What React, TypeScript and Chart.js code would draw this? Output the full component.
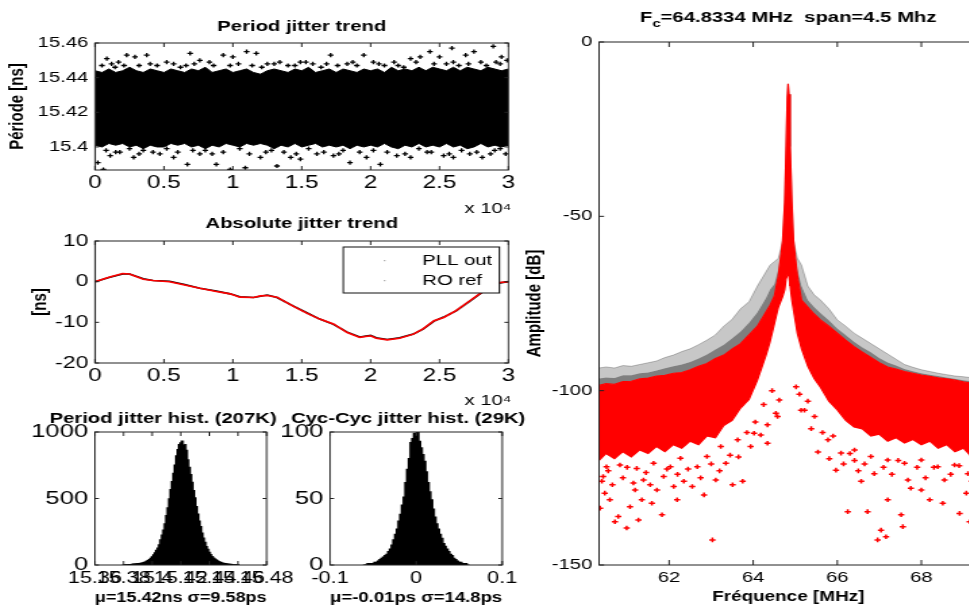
import React, { useEffect, useRef } from 'react';
import { Chart, registerables } from 'chart.js';

Chart.register(...registerables);
Chart.defaults.color = '#000';

const SX = 1.35;
const FONT = "'Liberation Sans', Arial, Helvetica, sans-serif";

// ---------------- Panel 1 : Period jitter trend ----------------
const P1_TITLE = 'Period jitter trend';
const P1_YLABEL = 'Période [ns]';
const P1_XSCALE = 'x 10⁴';
const P1_X_TICKS = [0, 0.5, 1, 1.5, 2, 2.5, 3];
const P1_X_LABELS = ['0', '0.5', '1', '1.5', '2', '2.5', '3'];
const P1_Y_TICKS = [15.4, 15.42, 15.44, 15.46];
const P1_Y_LABELS = ['15.4', '15.42', '15.44', '15.46'];
const P1_BAND_X = [0, 0.05, 0.1, 0.15, 0.2, 0.25, 0.3, 0.35, 0.4, 0.45,
  0.5, 0.55, 0.6, 0.65, 0.7, 0.75, 0.8, 0.85, 0.9, 0.95,
  1.0, 1.05, 1.1, 1.15, 1.2, 1.25, 1.3, 1.35, 1.4, 1.45,
  1.5, 1.55, 1.6, 1.65, 1.7, 1.75, 1.8, 1.85, 1.9, 1.95,
  2.0, 2.05, 2.1, 2.15, 2.2, 2.25, 2.3, 2.35, 2.4, 2.45,
  2.5, 2.55, 2.6, 2.65, 2.7, 2.75, 2.8, 2.85, 2.9, 2.95, 3.0];
const P1_BAND_UPPER = [15.444, 15.443, 15.445, 15.443, 15.444, 15.446, 15.444, 15.443, 15.445, 15.444,
  15.443, 15.445, 15.444, 15.443, 15.445, 15.444, 15.446, 15.443, 15.444, 15.445,
  15.443, 15.444, 15.445, 15.443, 15.442, 15.444, 15.445, 15.444, 15.443, 15.445,
  15.444, 15.446, 15.443, 15.444, 15.445, 15.443, 15.445, 15.444, 15.443, 15.445,
  15.444, 15.445, 15.443, 15.446, 15.444, 15.445, 15.444, 15.446, 15.444, 15.446,
  15.445, 15.444, 15.446, 15.444, 15.446, 15.445, 15.444, 15.446, 15.445, 15.444, 15.445];
const P1_BAND_LOWER = [15.401, 15.4, 15.402, 15.401, 15.402, 15.4, 15.401, 15.399, 15.401, 15.4,
  15.4, 15.402, 15.401, 15.402, 15.4, 15.401, 15.399, 15.401, 15.4, 15.402,
  15.401, 15.4, 15.402, 15.401, 15.402, 15.401, 15.399, 15.401, 15.4, 15.402,
  15.4, 15.401, 15.402, 15.4, 15.401, 15.4, 15.401, 15.399, 15.401, 15.4,
  15.401, 15.4, 15.402, 15.4, 15.399, 15.401, 15.4, 15.402, 15.4, 15.401,
  15.4, 15.402, 15.4, 15.401, 15.399, 15.4, 15.402, 15.4, 15.401, 15.4, 15.401];
const P1_OUT_X = [0.085, 0.145, 0.17, 0.23, 0.29, 0.375, 0.45, 0.57, 0.69, 0.76, 0.86, 0.93, 1.0, 1.1, 1.17, 1.25, 1.34, 1.49, 1.58, 1.71, 1.83, 1.95, 2.02, 2.17, 2.29, 2.36, 2.43, 2.5, 2.59, 2.69, 2.75, 2.89, 2.95, 2.94,
  0.05, 0.32, 0.62, 0.98, 1.21, 1.4, 1.64, 1.9, 2.1, 2.24, 2.55, 2.64, 2.8, 2.99,
  0.12, 0.21, 0.4, 0.52, 0.66, 0.72, 0.83, 1.04, 1.14, 1.3, 1.45, 1.53, 1.68, 1.76, 1.87, 2.06, 2.2, 2.33, 2.46, 2.6, 2.71, 2.84, 2.91,
  0.02, 0.06, 0.11, 0.18, 0.28, 0.35, 0.47, 0.57, 0.67, 0.76, 0.88, 0.98, 1.09, 1.2, 1.32, 1.42, 1.49, 1.61, 1.73, 1.85, 1.97, 2.07, 2.19, 2.29, 2.41, 2.53, 2.6, 2.72, 2.81, 2.87, 2.94,
  0.25, 0.52, 0.8, 1.05, 1.28, 1.55, 1.8, 2.02, 2.35, 2.66,
  0.08, 0.15, 0.32, 0.42, 0.6, 0.71, 0.85, 0.93, 1.12, 1.24, 1.37, 1.46, 1.66, 1.77, 1.92, 2.12, 2.25, 2.44, 2.57, 2.77, 2.9, 2.98];
const P1_OUT_Y = [15.451, 15.446, 15.449, 15.453, 15.452, 15.453, 15.447, 15.448, 15.454, 15.45, 15.447, 15.453, 15.452, 15.455, 15.454, 15.448, 15.449, 15.449, 15.448, 15.453, 15.448, 15.453, 15.449, 15.449, 15.451, 15.452, 15.455, 15.452, 15.457, 15.453, 15.455, 15.458, 15.452, 15.448,
  15.447, 15.447, 15.446, 15.447, 15.446, 15.447, 15.446, 15.447, 15.447, 15.446, 15.448, 15.447, 15.449, 15.45,
  15.448, 15.447, 15.448, 15.449, 15.447, 15.448, 15.449, 15.448, 15.447, 15.448, 15.447, 15.449, 15.448, 15.447, 15.449, 15.448, 15.447, 15.449, 15.448, 15.449, 15.448, 15.447, 15.449,
  15.391, 15.387, 15.395, 15.397, 15.394, 15.398, 15.396, 15.394, 15.39, 15.396, 15.39, 15.387, 15.388, 15.394, 15.389, 15.394, 15.393, 15.396, 15.395, 15.391, 15.394, 15.39, 15.395, 15.394, 15.397, 15.395, 15.394, 15.396, 15.394, 15.396, 15.399,
  15.399, 15.399, 15.398, 15.399, 15.398, 15.399, 15.398, 15.398, 15.399, 15.398,
  15.398, 15.397, 15.396, 15.397, 15.397, 15.398, 15.396, 15.397, 15.396, 15.397, 15.397, 15.396, 15.397, 15.396, 15.397, 15.397, 15.396, 15.397, 15.396, 15.397, 15.398, 15.396];

// ---------------- Panel 2 : Absolute jitter trend ----------------
const P2_TITLE = 'Absolute jitter trend';
const P2_YLABEL = '[ns]';
const P2_XSCALE = 'x 10⁴';
const P2_X_TICKS = [0, 0.5, 1, 1.5, 2, 2.5, 3];
const P2_X_LABELS = ['0', '0.5', '1', '1.5', '2', '2.5', '3'];
const P2_Y_TICKS = [-20, -10, 0, 10];
const P2_Y_LABELS = ['-20', '-10', '0', '10'];
const P2_SERIES = ['PLL out', 'RO ref'];
const P2_X = [0, 0.1, 0.2, 0.25, 0.35, 0.42, 0.54, 0.65, 0.76, 0.88, 0.98, 1.05, 1.15, 1.2, 1.25, 1.32, 1.44, 1.54, 1.63, 1.73, 1.83, 1.92, 2.0, 2.04, 2.12, 2.21, 2.31, 2.38, 2.46, 2.53, 2.62, 2.72, 2.79, 2.87, 2.94, 3.0];
const P2_PLL = [0, 1.0, 1.9, 1.9, 0.7, 0.3, 0.1, -0.7, -1.6, -2.3, -3.0, -3.7, -3.9, -3.6, -3.3, -3.9, -6.0, -7.7, -9.2, -10.5, -12.4, -13.6, -13.2, -13.8, -14.2, -13.8, -12.9, -11.7, -9.7, -8.7, -7.2, -4.8, -3.1, -1.1, -0.3, 0];
const P2_RO = [0, 1.1, 2.0, 1.9, 0.6, 0.3, 0.0, -0.8, -1.6, -2.4, -3.0, -3.8, -3.9, -3.5, -3.4, -3.8, -6.1, -7.8, -9.2, -10.4, -12.5, -13.7, -13.3, -13.9, -14.3, -13.9, -12.9, -11.6, -9.6, -8.8, -7.1, -4.7, -3.0, -1.0, -0.2, 0];

// ---------------- Panel 3 : Period jitter histogram ----------------
const P3_TITLE = 'Period jitter hist. (207K)';
const P3_XLABEL = 'μ=15.42ns σ=9.58ps';
const P3_X_TICKS = [15.36, 15.38, 15.4, 15.42, 15.44, 15.46, 15.48];
const P3_X_LABELS = ['15.36', '15.38', '15.4', '15.42', '15.44', '15.46', '15.48'];
const P3_Y_TICKS = [0, 500, 1000];
const P3_Y_LABELS = ['0', '500', '1000'];
const HIST1_X = [15.38, 15.381, 15.382, 15.383, 15.384, 15.385, 15.386, 15.387, 15.388, 15.389,
  15.39, 15.391, 15.392, 15.393, 15.394, 15.395, 15.396, 15.397, 15.398, 15.399,
  15.4, 15.401, 15.402, 15.403, 15.404, 15.405, 15.406, 15.407, 15.408, 15.409,
  15.41, 15.411, 15.412, 15.413, 15.414, 15.415, 15.416, 15.417, 15.418, 15.419,
  15.42, 15.421, 15.422, 15.423, 15.424, 15.425, 15.426, 15.427, 15.428, 15.429,
  15.43, 15.431, 15.432, 15.433, 15.434, 15.435, 15.436, 15.437, 15.438, 15.439,
  15.44, 15.441, 15.442, 15.443, 15.444, 15.445, 15.446, 15.447, 15.448, 15.449,
  15.45, 15.451, 15.452, 15.453, 15.454, 15.455, 15.456, 15.457, 15.458, 15.459, 15.46];
const HIST1_Y = [0, 1, 1, 2, 3, 3, 5, 6, 7, 9,
  10, 11, 13, 15, 18, 22, 27, 33, 40, 50,
  62, 76, 92, 110, 128, 152, 190, 225, 262, 310,
  372, 430, 498, 566, 628, 690, 752, 820, 868, 905,
  918, 932, 898, 905, 862, 790, 735, 680, 622, 560,
  505, 440, 382, 330, 288, 240, 202, 170, 138, 118,
  96, 78, 63, 52, 45, 36, 30, 24, 19, 15,
  12, 10, 8, 6, 5, 4, 3, 2, 2, 1, 1];

// ---------------- Panel 4 : Cycle-to-cycle jitter histogram ----------------
const P4_TITLE = 'Cyc-Cyc jitter hist. (29K)';
const P4_XLABEL = 'μ=-0.01ps σ=14.8ps';
const P4_X_TICKS = [-0.1, 0, 0.1];
const P4_X_LABELS = ['-0.1', '0', '0.1'];
const P4_Y_TICKS = [0, 50, 100];
const P4_Y_LABELS = ['0', '50', '100'];
const HIST2_X = [-0.06, -0.058, -0.056, -0.054, -0.052, -0.05, -0.048, -0.046, -0.044, -0.042,
  -0.04, -0.038, -0.036, -0.034, -0.032, -0.03, -0.028, -0.026, -0.024, -0.022,
  -0.02, -0.018, -0.016, -0.014, -0.012, -0.01, -0.008, -0.006, -0.004, -0.002,
  0, 0.002, 0.004, 0.006, 0.008, 0.01, 0.012, 0.014, 0.016, 0.018,
  0.02, 0.022, 0.024, 0.026, 0.028, 0.03, 0.032, 0.034, 0.036, 0.038,
  0.04, 0.042, 0.044, 0.046, 0.048, 0.05, 0.052, 0.054, 0.056, 0.058, 0.06];
const HIST2_Y = [0, 0, 1, 1, 1, 1, 2, 2, 3, 4,
  5, 6, 7, 8, 10, 12, 15, 19, 23, 27,
  33, 38, 45, 51, 62, 72, 80, 92, 95, 99,
  97, 100, 93, 88, 83, 78, 70, 62, 55, 49,
  42, 36, 31, 27, 23, 20, 16, 14, 12, 10,
  8, 7, 5, 4, 3, 2, 2, 1, 1, 1, 0];

// ---------------- Panel 5 : Spectrum ----------------
const P5_TITLE_MAIN = 'F';
const P5_TITLE_SUB = 'c';
const P5_TITLE_REST = '=64.8334 MHz  span=4.5 Mhz';
const P5_XLABEL = 'Fréquence [MHz]';
const P5_YLABEL = 'Amplitude [dB]';
const P5_X_RANGE = [60.3334, 69.3334];
const P5_X_TICKS = [62, 64, 66, 68];
const P5_X_LABELS = ['62', '64', '66', '68'];
const P5_Y_TICKS = [-150, -100, -50, 0];
const P5_Y_LABELS = ['-150', '-100', '-50', '0'];
const SPEC_X = [60.3334, 60.5, 60.7, 60.9, 61.1, 61.3, 61.5, 61.7, 61.9, 62.1,
  62.3, 62.5, 62.7, 62.9, 63.1, 63.3, 63.5, 63.7, 63.9, 64.1,
  64.3, 64.4, 64.5, 64.6, 64.7, 64.75, 64.78, 64.81, 64.83, 64.85,
  64.88, 64.92, 64.96, 65.05, 65.15, 65.3, 65.45, 65.6, 65.8, 66.0,
  66.2, 66.4, 66.6, 66.8, 67.0, 67.2, 67.4, 67.6, 67.8, 68.0,
  68.2, 68.4, 68.6, 68.8, 69.0, 69.2, 69.3334];
const SPEC_RED_UP = [-98.5, -98.0, -98.2, -97.4, -97.3, -96.6, -96.4, -95.8, -95.6, -95.0,
  -94.8, -94.0, -93.0, -92.2, -90.8, -89.8, -88.0, -86.5, -84.0, -81.5,
  -77.5, -75.5, -73, -67, -57, -46, -32, -16, -12, -15,
  -30, -46, -57, -67, -74, -76, -78, -79.7, -81.5, -83.5,
  -85.5, -87.4, -89, -90.5, -92, -93.2, -93.8, -94.5, -95, -95.5,
  -95.9, -96.3, -96.6, -97, -97.5, -97.8, -98.2];
const SPEC_RED_LO = [-120, -118, -119.5, -117.5, -119, -117, -118, -116, -117.5, -115.5,
  -116.5, -114.5, -115.5, -113, -113.5, -110, -108.5, -105, -102.5, -97,
  -90, -86, -81, -76, -73, -71, -68, -67, -66, -67,
  -70, -74, -77, -83.5, -88, -93, -96.5, -99, -103, -105.5,
  -108.5, -110.4, -111, -113, -112.5, -114.5, -113.5, -115, -114, -115.5,
  -114.5, -116.5, -115.5, -117.5, -116.5, -119, -118];
const SPEC_BLK_MID = [-96.5, -96.2, -96.4, -95.6, -95.6, -95.0, -94.8, -94.2, -93.6, -93,
  -92.5, -91.8, -90.8, -89.6, -88.2, -86.8, -85, -83, -80.5, -77.5,
  -73.5, -71, -69.5, -65, -57, -46, -32, -16, -12, -15,
  -30, -46, -57, -65, -70, -74, -76, -77.7, -79.8, -82.2,
  -84, -86, -87.6, -89, -90.6, -91.9, -92.8, -93.8, -94.4, -95,
  -95.4, -95.8, -96.2, -96.6, -97, -97.3, -97.6];
const SPEC_BLK_UP = [-93.5, -93.2, -93.5, -92.8, -93, -92.5, -92, -91.5, -90.5, -89.8,
  -88.8, -88, -86.8, -85.5, -84, -81.5, -79.5, -76.5, -74.5, -70,
  -66, -64, -63, -62, -57, -46, -32, -16, -12, -15,
  -30, -46, -57, -62, -64, -70, -72.5, -74, -76.5, -79.7,
  -81.5, -83.5, -85, -86.5, -88, -89.5, -91, -92.5, -93.3, -94,
  -94.5, -95, -95.4, -95.8, -96, -96.3, -96.5];
const SPEC_PTS_X = [60.357, 60.47, 60.43, 60.59, 60.71, 60.79, 60.99, 61.07, 61.19, 61.27, 61.35, 61.39, 61.59, 61.71, 61.83, 61.87, 62.11, 62.19, 62.35, 62.55, 62.67, 62.83, 63.03, 63.11, 63.35, 63.51, 63.75, 63.94, 64.18, 64.34, 64.54, 64.62,
  65.02, 65.14, 65.38, 65.54, 65.81, 65.97, 66.25, 66.41, 66.57, 66.72, 66.88, 66.96, 67.04, 67.16, 67.2, 67.52, 67.56, 67.68, 68.0, 68.2, 68.51, 68.55, 68.91, 69.07, 69.15,
  60.51, 60.83, 61.23, 61.63, 62.03, 62.27, 62.9, 63.23, 63.63, 64.02, 64.34, 64.58,
  65.22, 65.46, 65.78, 66.09, 66.41, 66.8, 67.2, 67.6, 68.0, 68.39, 68.79, 69.11,
  60.4, 60.55, 60.65, 60.9, 61.0, 61.15, 61.45, 61.55, 61.95, 62.2, 62.45, 62.75, 63.0, 63.2, 63.45, 63.65, 63.85, 64.05, 64.25, 64.45,
  65.1, 65.3, 65.65, 65.9, 66.15, 66.3, 66.5, 66.65, 67.1, 67.3, 67.45, 67.75, 67.9, 68.1, 68.3, 68.7, 68.9, 69.2, 69.25];
const SPEC_PTS_Y = [-133.7, -129.4, -124.6, -131.3, -137.6, -136.1, -139.4, -133.3, -128.5, -137.1, -131.3, -125.6, -132.3, -128.5, -135.6, -124.6, -127.5, -131.3, -126, -127.5, -121.8, -129.9, -142.8, -125.6, -120.8, -127, -126, -116, -112.7, -115.1, -106.5, -102.7,
  -98.9, -105.6, -110.9, -117.6, -119.5, -122.8, -134.7, -120, -126, -134.7, -123.8, -142.8, -140, -141.9, -131.3, -135.6, -139, -125.6, -128.5, -131.3, -132.3, -125.6, -135.2, -129.4, -137.6,
  -121.8, -121.3, -122.3, -120.8, -121.8, -119.4, -118.9, -116, -114.1, -112.2, -109.8, -107.4,
  -105.6, -107.4, -114.1, -117.9, -117, -118.9, -119.9, -120.8, -119.9, -121.8, -121.3, -123.8,
  -126, -123, -127, -125, -122, -126.5, -123.5, -127, -122.5, -124, -122.5, -125, -121, -123, -118.5, -119, -112, -109, -104, -100,
  -101, -103, -112, -113, -121, -118, -123, -121, -122, -124, -120, -128, -122, -125, -122, -124, -121.5, -126, -130];

// ---------------- layout (final page pixels) ----------------
type Region = { x0: number; x1: number; y0: number; y1: number; l: number; r: number; t: number; b: number };
const R1: Region = { x0: 0, x1: 530, y0: 0, y1: 218, l: 95, r: 508, t: 43, b: 170 };
const R2: Region = { x0: 0, x1: 530, y0: 205, y1: 410, l: 95, r: 508, t: 241, b: 363 };
const R3: Region = { x0: 20, x1: 300, y0: 405, y1: 608, l: 95, r: 270, t: 432, b: 565 };
const R4: Region = { x0: 282, x1: 532, y0: 405, y1: 608, l: 330, r: 502, t: 432, b: 565 };
const R5: Region = { x0: 520, x1: 1000, y0: 0, y1: 608, l: 599, r: 977, t: 42, b: 565 };
const HIST_TITLE_Y = 419;
const P3_TITLE_ANCHOR = { x: 277, align: 'right' };
const P4_TITLE_ANCHOR = { x: 291, align: 'left' };
const P1_NOTE_POS = { x: 511, y: 209 };
const P2_NOTE_POS = { x: 511, y: 401 };

function dims(R: Region) {
  const w = Math.round((R.x1 - R.x0) / SX);
  const plotL = (R.l - R.x0) / SX;
  const plotR = (R.r - R.x0) / SX;
  return { w, h: R.y1 - R.y0, yAxisW: plotL, padRight: w - plotR, top: R.t - R.y0, xAxisH: R.y1 - R.b };
}

const pts = (xs: number[], ys: number[]) => xs.map((x, i) => ({ x, y: ys[i] }));

function linAxis(min: number, max: number, ticks: number[], labels: string[], size: number, padding: number, fixed: { w?: number; h?: number }, title?: any) {
  return {
    type: 'linear',
    min,
    max,
    offset: false,
    grid: { display: false, drawTicks: false },
    border: { display: false },
    afterBuildTicks: (sc: any) => { sc.ticks = ticks.map((v) => ({ value: v })); },
    afterFit: (sc: any) => {
      if (fixed.w !== undefined) sc.width = fixed.w;
      if (fixed.h !== undefined) sc.height = fixed.h;
    },
    ticks: {
      autoSkip: false,
      maxRotation: 0,
      minRotation: 0,
      padding,
      color: '#000',
      font: { family: FONT, size },
      callback: (_v: any, i: number) => labels[i],
    },
    title: title || { display: false },
  };
}

function boxPlugin(tickLen: number) {
  return {
    id: 'matlabBox',
    afterDatasetsDraw(chart: any) {
      const { ctx, chartArea: a, scales } = chart;
      const xs = scales.x;
      const ys = scales.y;
      ctx.save();
      ctx.strokeStyle = '#222';
      ctx.lineWidth = 1;
      ctx.beginPath();
      xs.ticks.forEach((t: any) => {
        const p = xs.getPixelForValue(t.value);
        ctx.moveTo(p, a.bottom);
        ctx.lineTo(p, a.bottom - tickLen);
        ctx.moveTo(p, a.top);
        ctx.lineTo(p, a.top + tickLen);
      });
      ys.ticks.forEach((t: any) => {
        const p = ys.getPixelForValue(t.value);
        ctx.moveTo(a.left, p);
        ctx.lineTo(a.left + tickLen / SX, p);
        ctx.moveTo(a.right, p);
        ctx.lineTo(a.right - tickLen / SX, p);
      });
      ctx.stroke();
      ctx.strokeRect(a.left, a.top, a.right - a.left, a.bottom - a.top);
      ctx.restore();
    },
  };
}

const legendPlugin = {
  id: 'matlabLegend',
  afterDatasetsDraw(chart: any) {
    const { ctx, chartArea: a } = chart;
    const w = 156 / SX;
    const h = 46;
    const x = a.right - 9 / SX - w;
    const y = a.top + 6;
    ctx.save();
    ctx.fillStyle = '#fff';
    ctx.fillRect(x, y, w, h);
    ctx.strokeStyle = '#111';
    ctx.lineWidth = 1;
    ctx.strokeRect(x, y, w, h);
    ctx.font = `15px ${FONT}`;
    ctx.textBaseline = 'middle';
    ctx.textAlign = 'left';
    chart.data.datasets.slice().reverse().forEach((ds: any, i: number) => {
      const cy = y + 13.5 + i * 20;
      ctx.fillStyle = '#aaa';
      ctx.fillRect(x + 30, cy - 0.5, 1.2, 1.2);
      ctx.fillStyle = '#000';
      ctx.fillText(ds.label, x + 58.5, cy);
    });
    ctx.restore();
  },
};

function textPlugin(id: string, R: Region, text: string, x: number, y: number, align: string, font: string) {
  return {
    id,
    afterDraw(chart: any) {
      const { ctx } = chart;
      ctx.save();
      ctx.font = font;
      ctx.fillStyle = '#000';
      ctx.textAlign = align;
      ctx.textBaseline = 'middle';
      ctx.fillText(text, (x - R.x0) / SX, y - R.y0);
      ctx.restore();
    },
  };
}

const specTitlePlugin = {
  id: 'specTitle',
  afterDraw(chart: any) {
    const { ctx, chartArea: a } = chart;
    const main = `bold 15px ${FONT}`;
    const sub = `bold 11px ${FONT}`;
    ctx.save();
    ctx.font = main;
    const wF = ctx.measureText(P5_TITLE_MAIN).width;
    const wR = ctx.measureText(P5_TITLE_REST).width;
    ctx.font = sub;
    const wc = ctx.measureText(P5_TITLE_SUB).width;
    let x = (a.left + a.right) / 2 - (wF + wc + wR) / 2;
    const y = 18;
    ctx.fillStyle = '#000';
    ctx.textBaseline = 'middle';
    ctx.textAlign = 'left';
    ctx.font = main;
    ctx.fillText(P5_TITLE_MAIN, x, y);
    x += wF;
    ctx.font = sub;
    ctx.fillText(P5_TITLE_SUB, x, y + 6);
    x += wc;
    ctx.font = main;
    ctx.fillText(P5_TITLE_REST, x, y);
    ctx.restore();
  },
};

const baseOpts = {
  responsive: false,
  animation: false,
  devicePixelRatio: 1,
  events: [],
};

function titleCfg(text: string, top: number, bottom: number) {
  return {
    display: true,
    text,
    color: '#000',
    fullSize: false,
    font: { family: FONT, size: 15, weight: 'bold', lineHeight: 1 },
    padding: { top, bottom },
  };
}

function cfgP1(): any {
  const d = dims(R1);
  return {
    type: 'scatter',
    data: {
      datasets: [
        { type: 'scatter', label: 'out', data: pts(P1_OUT_X, P1_OUT_Y), pointStyle: 'cross', pointRadius: 2.1, borderColor: '#000', borderWidth: 1.3 },
        { type: 'line', label: 'upper', data: pts(P1_BAND_X, P1_BAND_UPPER), borderColor: '#000', borderWidth: 1, backgroundColor: '#000', pointRadius: 0, fill: 2, tension: 0 },
        { type: 'line', label: 'lower', data: pts(P1_BAND_X, P1_BAND_LOWER), borderColor: '#000', borderWidth: 1, pointRadius: 0, fill: false, tension: 0 },
      ],
    },
    options: {
      ...baseOpts,
      layout: { padding: { left: 0, right: d.padRight, top: 0, bottom: 0 } },
      plugins: { legend: { display: false }, tooltip: { enabled: false }, title: titleCfg(P1_TITLE, 19.5, 8.5) },
      scales: {
        x: linAxis(0, 3, P1_X_TICKS, P1_X_LABELS, 18, 2, { h: d.xAxisH }),
        y: linAxis(15.3867, 15.46, P1_Y_TICKS, P1_Y_LABELS, 15, 5, { w: d.yAxisW }, { display: true, text: P1_YLABEL, color: '#000', font: { family: FONT, size: 15, weight: 'bold', lineHeight: 1 }, padding: { top: 5.8, bottom: 0 } }),
      },
    },
    plugins: [boxPlugin(4), textPlugin('p1note', R1, P1_XSCALE, P1_NOTE_POS.x, P1_NOTE_POS.y, 'right', `15px ${FONT}`)],
  };
}

function cfgP2(): any {
  const d = dims(R2);
  return {
    type: 'scatter',
    data: {
      datasets: [
        { type: 'line', label: P2_SERIES[1], data: pts(P2_X, P2_RO), borderColor: '#ff0000', borderWidth: 1.6, pointRadius: 0, fill: false, tension: 0 },
        { type: 'line', label: P2_SERIES[0], data: pts(P2_X, P2_PLL), borderColor: '#000', borderWidth: 1.6, pointRadius: 0, fill: false, tension: 0 },
      ],
    },
    options: {
      ...baseOpts,
      layout: { padding: { left: 0, right: d.padRight, top: 0, bottom: 0 } },
      plugins: { legend: { display: false }, tooltip: { enabled: false }, title: titleCfg(P2_TITLE, 11.5, 9.5) },
      scales: {
        x: linAxis(0, 3, P2_X_TICKS, P2_X_LABELS, 18, 2, { h: d.xAxisH }),
        y: linAxis(-20, 10, P2_Y_TICKS, P2_Y_LABELS, 17, 5, { w: d.yAxisW }, { display: true, text: P2_YLABEL, color: '#000', font: { family: FONT, size: 15, weight: 'bold', lineHeight: 1 }, padding: { top: 22, bottom: 0 } }),
      },
    },
    plugins: [boxPlugin(4), legendPlugin, textPlugin('p2note', R2, P2_XSCALE, P2_NOTE_POS.x, P2_NOTE_POS.y, 'right', `15px ${FONT}`)],
  };
}

function histCfg(R: Region, title: string, anchor: { x: number; align: string }, xlabel: string, xs: number[], ys: number[], xmin: number, xmax: number, xt: number[], xl: string[], ymax: number, yt: number[], yl: string[]): any {
  const d = dims(R);
  return {
    type: 'bar',
    data: {
      datasets: [
        { label: title, data: pts(xs, ys), backgroundColor: '#000', borderWidth: 0, barPercentage: 1, categoryPercentage: 1, inflateAmount: 0.6 },
      ],
    },
    options: {
      ...baseOpts,
      layout: { padding: { left: 0, right: d.padRight, top: d.top, bottom: 0 } },
      plugins: { legend: { display: false }, tooltip: { enabled: false }, title: { display: false } },
      scales: {
        x: linAxis(xmin, xmax, xt, xl, 16, 4, { h: d.xAxisH }, { display: true, text: xlabel, color: '#000', font: { family: FONT, size: 15, weight: 'bold', lineHeight: 1 }, padding: { top: 0, bottom: 2.5 } }),
        y: linAxis(0, ymax, yt, yl, 19, 5, { w: d.yAxisW }),
      },
    },
    plugins: [boxPlugin(4), textPlugin('histTitle', R, title, anchor.x, HIST_TITLE_Y, anchor.align, `bold 15px ${FONT}`)],
  };
}

function cfgP5(): any {
  const d = dims(R5);
  return {
    type: 'scatter',
    data: {
      datasets: [
        { type: 'scatter', label: 'RO ref', data: pts(SPEC_PTS_X, SPEC_PTS_Y), pointStyle: 'cross', pointRadius: 2.3, borderColor: '#ff0000', borderWidth: 1.5 },
        { type: 'line', label: 'RO ref upper', data: pts(SPEC_X, SPEC_RED_UP), borderColor: '#ff0000', borderWidth: 1.2, backgroundColor: '#ff0000', pointRadius: 0, fill: 2, tension: 0 },
        { type: 'line', label: 'RO ref lower', data: pts(SPEC_X, SPEC_RED_LO), borderColor: '#ff0000', borderWidth: 1.2, pointRadius: 0, fill: false, tension: 0 },
        { type: 'line', label: 'PLL out dense', data: pts(SPEC_X, SPEC_BLK_MID), borderColor: 'rgba(0,0,0,0)', borderWidth: 1, backgroundColor: 'rgba(0,0,0,0.5)', pointRadius: 0, fill: 1, tension: 0 },
        { type: 'line', label: 'PLL out', data: pts(SPEC_X, SPEC_BLK_UP), borderColor: 'rgba(0,0,0,0.25)', borderWidth: 1, backgroundColor: 'rgba(0,0,0,0.22)', pointRadius: 0, fill: 3, tension: 0 },
      ],
    },
    options: {
      ...baseOpts,
      layout: { padding: { left: 0, right: d.padRight, top: d.top, bottom: 0 } },
      plugins: { legend: { display: false }, tooltip: { enabled: false }, title: { display: false } },
      scales: {
        x: linAxis(P5_X_RANGE[0], P5_X_RANGE[1], P5_X_TICKS, P5_X_LABELS, 15, 4, { h: d.xAxisH }, { display: true, text: P5_XLABEL, color: '#000', font: { family: FONT, size: 14, weight: 'bold', lineHeight: 1 }, padding: { top: 0, bottom: 3.5 } }),
        y: linAxis(-150, 0, P5_Y_TICKS, P5_Y_LABELS, 15, 5, { w: d.yAxisW }, { display: true, text: P5_YLABEL, color: '#000', font: { family: FONT, size: 15, weight: 'bold', lineHeight: 1 }, padding: { top: 3.6, bottom: 0 } }),
      },
    },
    plugins: [boxPlugin(5), specTitlePlugin],
  };
}

function canvasStyle(R: Region): React.CSSProperties {
  const d = dims(R);
  return { position: 'absolute', left: R.x0, top: R.y0, width: d.w * SX, height: d.h };
}

export default function App() {
  const c1 = useRef<HTMLCanvasElement>(null);
  const c2 = useRef<HTMLCanvasElement>(null);
  const c3 = useRef<HTMLCanvasElement>(null);
  const c4 = useRef<HTMLCanvasElement>(null);
  const c5 = useRef<HTMLCanvasElement>(null);

  useEffect(() => {
    const charts: Chart[] = [];
    if (c5.current) charts.push(new Chart(c5.current, cfgP5()));
    if (c1.current) charts.push(new Chart(c1.current, cfgP1()));
    if (c2.current) charts.push(new Chart(c2.current, cfgP2()));
    if (c3.current) charts.push(new Chart(c3.current, histCfg(R3, P3_TITLE, P3_TITLE_ANCHOR, P3_XLABEL, HIST1_X, HIST1_Y, 15.36, 15.48, P3_X_TICKS, P3_X_LABELS, 1000, P3_Y_TICKS, P3_Y_LABELS)));
    if (c4.current) charts.push(new Chart(c4.current, histCfg(R4, P4_TITLE, P4_TITLE_ANCHOR, P4_XLABEL, HIST2_X, HIST2_Y, -0.1, 0.1, P4_X_TICKS, P4_X_LABELS, 100, P4_Y_TICKS, P4_Y_LABELS)));
    return () => charts.forEach((c) => c.destroy());
  }, []);

  const regs: [React.RefObject<HTMLCanvasElement>, Region][] = [[c5, R5], [c1, R1], [c2, R2], [c3, R3], [c4, R4]];
  return (
    <div style={{ position: 'fixed', left: 0, top: 0, width: 969, height: 608, overflow: 'hidden', background: '#fff' }}>
      {regs.map(([ref, R], i) => {
        const d = dims(R);
        return <canvas key={i} ref={ref} width={d.w} height={d.h} style={canvasStyle(R)} />;
      })}
    </div>
  );
}
